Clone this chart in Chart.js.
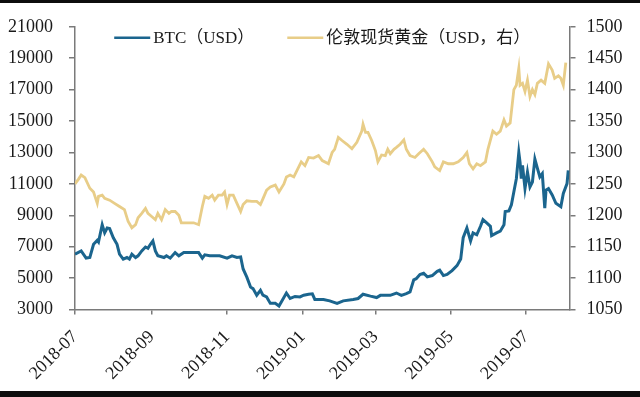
<!DOCTYPE html>
<html>
<head>
<meta charset="utf-8">
<script src="https://cdn.jsdelivr.net/npm/chart.js@4.4.1/dist/chart.umd.min.js"></script>
<style>
  body { margin: 0; background: #fff; }
  #wrap { position: relative; width: 640px; height: 397px; }
  .bar { position: absolute; left: 0; width: 640px; background: #0d0d0d; }
</style>
</head>
<body>
<div id="wrap">
  <canvas id="chart" width="640" height="397"></canvas>
  <div class="bar" style="top:0;height:3px"></div>
  <div class="bar" style="top:391px;height:6px"></div>
</div>
<script>
const btcLabel = 'BTC（USD）';
const goldLabel = '伦敦现货黄金（USD，右）';

const btcDates = [
  '2018-07-01','2018-07-06','2018-07-10','2018-07-13','2018-07-16','2018-07-19','2018-07-20','2018-07-23','2018-07-25','2018-07-27','2018-07-29',
  '2018-08-01','2018-08-04','2018-08-06','2018-08-09','2018-08-12','2018-08-14','2018-08-16','2018-08-19','2018-08-21','2018-08-24','2018-08-27','2018-08-29','2018-08-31',
  '2018-09-02','2018-09-04','2018-09-06','2018-09-11','2018-09-13','2018-09-16','2018-09-20','2018-09-23','2018-09-27',
  '2018-10-05','2018-10-09','2018-10-12','2018-10-14','2018-10-18','2018-10-26',
  '2018-11-01','2018-11-05','2018-11-09','2018-11-12','2018-11-14','2018-11-17','2018-11-20','2018-11-22','2018-11-25','2018-11-28','2018-11-30',
  '2018-12-03','2018-12-06','2018-12-10','2018-12-13','2018-12-15','2018-12-19','2018-12-22','2018-12-26','2018-12-30',
  '2019-01-02','2019-01-06','2019-01-09','2019-01-11','2019-01-18','2019-01-23','2019-01-29',
  '2019-02-03','2019-02-11','2019-02-15','2019-02-19','2019-02-25',
  '2019-03-02','2019-03-05','2019-03-13','2019-03-18','2019-03-22','2019-03-26','2019-03-29',
  '2019-04-01','2019-04-03','2019-04-06','2019-04-09','2019-04-12','2019-04-16','2019-04-20','2019-04-22','2019-04-25','2019-04-28',
  '2019-05-02','2019-05-06','2019-05-09','2019-05-11','2019-05-14','2019-05-17','2019-05-19','2019-05-22','2019-05-25','2019-05-27','2019-05-30',
  '2019-06-02','2019-06-03','2019-06-07','2019-06-10','2019-06-13','2019-06-14','2019-06-17','2019-06-19','2019-06-21','2019-06-23','2019-06-25','2019-06-26','2019-06-27','2019-06-28','2019-06-30',
  '2019-07-02','2019-07-04','2019-07-06','2019-07-08','2019-07-10','2019-07-12','2019-07-14','2019-07-16','2019-07-17','2019-07-19','2019-07-22','2019-07-25','2019-07-29','2019-07-31',
  '2019-08-03','2019-08-04'
];
const btcValues = [
  6525,6730,6274,6310,7150,7400,7300,8400,7880,8190,8150,
  7570,7150,6525,6210,6310,6210,6525,6310,6420,6730,6980,6900,7150,
  7360,6730,6420,6310,6420,6270,6625,6420,6625,
  6625,6625,6270,6480,6420,6420,
  6270,6420,6310,6350,5580,5060,4430,4330,3910,4220,3910,
  3800,3390,3390,3220,3490,4050,3700,3830,3800,
  3910,3970,4000,3640,3640,3550,3390,
  3550,3640,3700,3970,3850,
  3760,3900,3900,4050,3900,4010,4120,
  4890,4960,5230,5310,5080,5160,5430,5500,5160,5230,
  5480,5790,6210,7570,8190,7360,7880,7760,8300,8720,8510,
  8300,7710,7880,7990,8400,9240,9280,9660,10500,11330,13000,12380,11330,12170,10700,
  11750,10800,11120,12580,12000,11440,11650,9450,10600,10700,10290,9760,9550,10390,
  11020,11860
];

const goldDates = [
  '2018-07-01','2018-07-04','2018-07-06','2018-07-09','2018-07-13','2018-07-16','2018-07-19','2018-07-20','2018-07-23','2018-07-25','2018-07-29',
  '2018-08-02','2018-08-06','2018-08-10','2018-08-13','2018-08-16','2018-08-19','2018-08-21','2018-08-24','2018-08-27','2018-08-29',
  '2018-09-01','2018-09-04','2018-09-06','2018-09-09','2018-09-12','2018-09-15','2018-09-17','2018-09-20','2018-09-23','2018-09-25','2018-09-29',
  '2018-10-05','2018-10-09','2018-10-12','2018-10-14','2018-10-17','2018-10-20','2018-10-22','2018-10-25','2018-10-28','2018-10-30',
  '2018-11-01','2018-11-03','2018-11-06','2018-11-09','2018-11-12','2018-11-14','2018-11-17','2018-11-21','2018-11-25','2018-11-28','2018-11-30',
  '2018-12-03','2018-12-06','2018-12-10','2018-12-13','2018-12-17','2018-12-19','2018-12-22','2018-12-25','2018-12-29','2018-12-31',
  '2019-01-03','2019-01-06','2019-01-10','2019-01-14','2019-01-17','2019-01-22','2019-01-25','2019-01-27','2019-01-30',
  '2019-02-02','2019-02-06','2019-02-10','2019-02-14','2019-02-18','2019-02-19','2019-02-21','2019-02-23','2019-02-26',
  '2019-03-01','2019-03-03','2019-03-06','2019-03-09','2019-03-11','2019-03-13','2019-03-16','2019-03-18','2019-03-21','2019-03-24','2019-03-26','2019-03-29',
  '2019-04-02','2019-04-05','2019-04-09','2019-04-12','2019-04-16','2019-04-18','2019-04-22','2019-04-25','2019-04-29',
  '2019-05-03','2019-05-07','2019-05-11','2019-05-14','2019-05-16','2019-05-19','2019-05-22','2019-05-25','2019-05-29','2019-05-31',
  '2019-06-04','2019-06-07','2019-06-10','2019-06-13','2019-06-15','2019-06-18','2019-06-21','2019-06-23','2019-06-25','2019-06-26','2019-06-28','2019-06-30',
  '2019-07-02','2019-07-04','2019-07-06','2019-07-08','2019-07-10','2019-07-13','2019-07-16','2019-07-19','2019-07-22','2019-07-24','2019-07-27','2019-07-29','2019-07-31',
  '2019-08-02'
];
const goldValues = [
  1250,1258,1264,1260,1243,1237,1219,1230,1232,1227,1224,
  1219,1214,1209,1190,1180,1185,1196,1203,1211,1203,
  1198,1193,1203,1193,1209,1203,1206,1206,1200,1188,1188,
  1188,1185,1214,1230,1227,1232,1224,1232,1232,1237,
  1217,1232,1232,1219,1206,1217,1223,1222,1222,1217,1226,
  1240,1245,1248,1237,1250,1261,1264,1261,1277,1285,
  1279,1292,1291,1295,1287,1282,1300,1305,1324,
  1319,1313,1306,1316,1334,1345,1332,1332,1319,
  1303,1285,1296,1295,1305,1298,1305,1308,1313,1320,1305,1295,
  1292,1298,1305,1298,1285,1277,1271,1285,1282,
  1282,1285,1292,1300,1282,1274,1282,1279,1285,1305,
  1334,1329,1334,1352,1342,1347,1400,1407,1434,1407,1410,1397,
  1415,1389,1400,1392,1410,1415,1410,1441,1431,1418,1422,1418,1407,
  1443
];

const tickDates = ['2018-07-01','2018-09-01','2018-11-01','2019-01-01','2019-03-01','2019-05-01','2019-07-01'];
const tickLabels = ['2018-07','2018-09','2018-11','2019-01','2019-03','2019-05','2019-07'];

// x axis counts days from the first tick
const dayOf = s => {
  const [y, m, d] = s.split('-').map(Number);
  return (Date.UTC(y, m - 1, d) - Date.UTC(2018, 6, 1)) / 86400000;
};
const toPoints = (dates, vals) => dates.map((s, i) => ({ x: dayOf(s), y: vals[i] }));

const FONT = "'Liberation Serif', 'Times New Roman', 'Noto Sans CJK SC', serif";
const AXIS = '#7a7a7a';

// legend drawn inside the plot, line sample + text
const inlineLegend = {
  id: 'inlineLegend',
  afterDraw(chart) {
    const { ctx, chartArea } = chart;
    const lineLen = 36, gap = 3, itemGap = 33;
    ctx.save();
    ctx.font = '17px ' + FONT;
    const items = chart.data.datasets.map(ds => ({ ds, w: ctx.measureText(ds.label).width }));
    const total = items.reduce((s, it) => s + lineLen + gap + it.w, 0) + itemGap * (items.length - 1);
    let x = (chartArea.left + chartArea.right) / 2 - total / 2;
    const y = chartArea.top + 11;
    items.forEach(({ ds, w }) => {
      ctx.strokeStyle = ds.borderColor;
      ctx.lineWidth = 2.5;
      ctx.beginPath();
      ctx.moveTo(x, y);
      ctx.lineTo(x + lineLen, y);
      ctx.stroke();
      ctx.fillStyle = '#1a1a1a';
      ctx.textBaseline = 'middle';
      ctx.fillText(ds.label, x + lineLen + gap, y + 1);
      x += lineLen + gap + w + itemGap;
    });
    ctx.restore();
  }
};

const ctx = document.getElementById('chart').getContext('2d');
new Chart(ctx, {
  type: 'line',
  data: {
    datasets: [
      { label: btcLabel, data: toPoints(btcDates, btcValues), yAxisID: 'y',
        borderColor: '#1b658e', borderWidth: 3, pointRadius: 0, tension: 0 },
      { label: goldLabel, data: toPoints(goldDates, goldValues), yAxisID: 'y1',
        borderColor: '#e8cd88', borderWidth: 2.8, pointRadius: 0, tension: 0 }
    ]
  },
  options: {
    animation: false,
    responsive: false,
    layout: { padding: { top: 23, left: 0, right: 0, bottom: 0 } },
    plugins: { legend: { display: false }, tooltip: { enabled: false } },
    scales: {
      x: {
        type: 'linear', min: 0, max: 400,
        afterBuildTicks: s => { s.ticks = tickDates.map(d => ({ value: dayOf(d) })); },
        afterFit: s => { s.height = 87.5; },
        ticks: {
          autoSkip: false, minRotation: 45, maxRotation: 45, padding: 12,
          color: '#1a1a1a', font: { family: FONT, size: 18 },
          callback: (v, i) => tickLabels[i]
        },
        grid: { drawOnChartArea: false, tickLength: 5, color: AXIS, lineWidth: 1.5 },
        border: { color: AXIS, width: 1.5 }
      },
      y: {
        position: 'left', min: 3000, max: 21000,
        afterFit: s => { s.width = 75; },
        ticks: { stepSize: 2000, padding: 16, color: '#1a1a1a', font: { family: FONT, size: 18 },
          callback: v => String(v) },
        grid: { drawOnChartArea: false, tickLength: 6, color: AXIS, lineWidth: 1.5 },
        border: { color: AXIS, width: 1.5 }
      },
      y1: {
        position: 'right', min: 1050, max: 1500,
        afterFit: s => { s.width = 70.5; },
        ticks: { stepSize: 50, padding: 11, color: '#1a1a1a', font: { family: FONT, size: 18 },
          callback: v => String(v) },
        grid: { drawOnChartArea: false, tickLength: 6, color: AXIS, lineWidth: 1.5 },
        border: { color: AXIS, width: 1.5 }
      }
    }
  },
  plugins: [inlineLegend]
});
</script>
</body>
</html>
